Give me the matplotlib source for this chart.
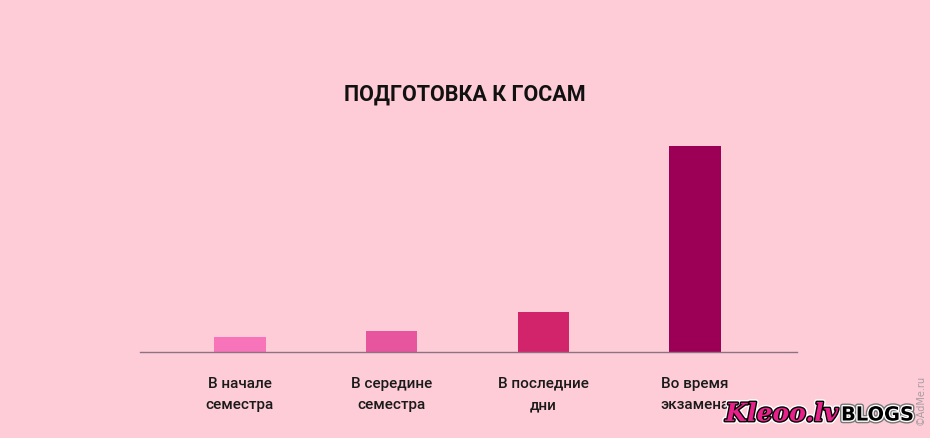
import matplotlib.pyplot as plt
import matplotlib.patheffects as pe

# data (bar heights, arbitrary units)
categories = ['В начале\nсеместра', 'В середине\nсеместра', 'В последние\nдни', 'Во время\nэкзамена']
values = [15, 21, 40, 206]
colors = ['#f774bb', '#e6559d', '#d2246b', '#9c0056']
title = 'ПОДГОТОВКА К ГОСАМ'

BG = '#fdccd7'
W, H = 930, 439

fig = plt.figure(figsize=(W / 100, H / 100), dpi=100, facecolor=BG)
# axes box in pixel terms: x 140..797, baseline at y=353, top at y=140
ax = fig.add_axes([140 / W, (H - 353) / H, (797 - 140) / W, (353 - 140) / H])
ax.set_facecolor(BG)

x = range(len(values))
ax.bar(x, values, width=0.34, color=colors, zorder=2)
ax.set_xlim(-0.659, 3.672)
ax.set_ylim(0, 213)

for s in ['top', 'right', 'left']:
    ax.spines[s].set_visible(False)
ax.spines['bottom'].set_color('#8c7282')
ax.spines['bottom'].set_linewidth(1.0)
ax.set_yticks([])
ax.set_xticks(list(x))
ax.set_xticklabels(categories, fontfamily='Roboto', fontweight='medium', fontsize=11,
                   color='#1a1a1a', linespacing=1.7)
ax.tick_params(axis='x', length=0, pad=17)

# the original uses a narrow display face; Roboto bold at a smaller size keeps the width close
fig.text(465 / W, 1 - 95 / H, title, ha='center', va='center', fontsize=15.5,
         fontweight='bold', fontfamily='Roboto', color='#111111')

# watermarks
fig.text(838 / W, 1 - 415 / H, 'Kleoo.lv', ha='right', va='center', fontsize=18,
         fontfamily='DejaVu Serif', fontstyle='italic', fontweight='bold', color='#e8208a',
         path_effects=[pe.withStroke(linewidth=4, foreground='white'),
                       pe.withStroke(linewidth=2, foreground='black')])
fig.text(841 / W, 1 - 416 / H, 'BLOGS', ha='left', va='center', fontsize=14,
         fontfamily='DejaVu Sans', fontweight='bold', color='black',
         path_effects=[pe.withStroke(linewidth=4, foreground='#777777'),
                       pe.withStroke(linewidth=2, foreground='white')])
fig.text(921 / W, 1 - 400 / H, '©AdMe.ru', ha='center', va='center', fontsize=7,
         rotation=90, color='#a89ca2')

fig.savefig('out.png', dpi=100, facecolor=BG)
